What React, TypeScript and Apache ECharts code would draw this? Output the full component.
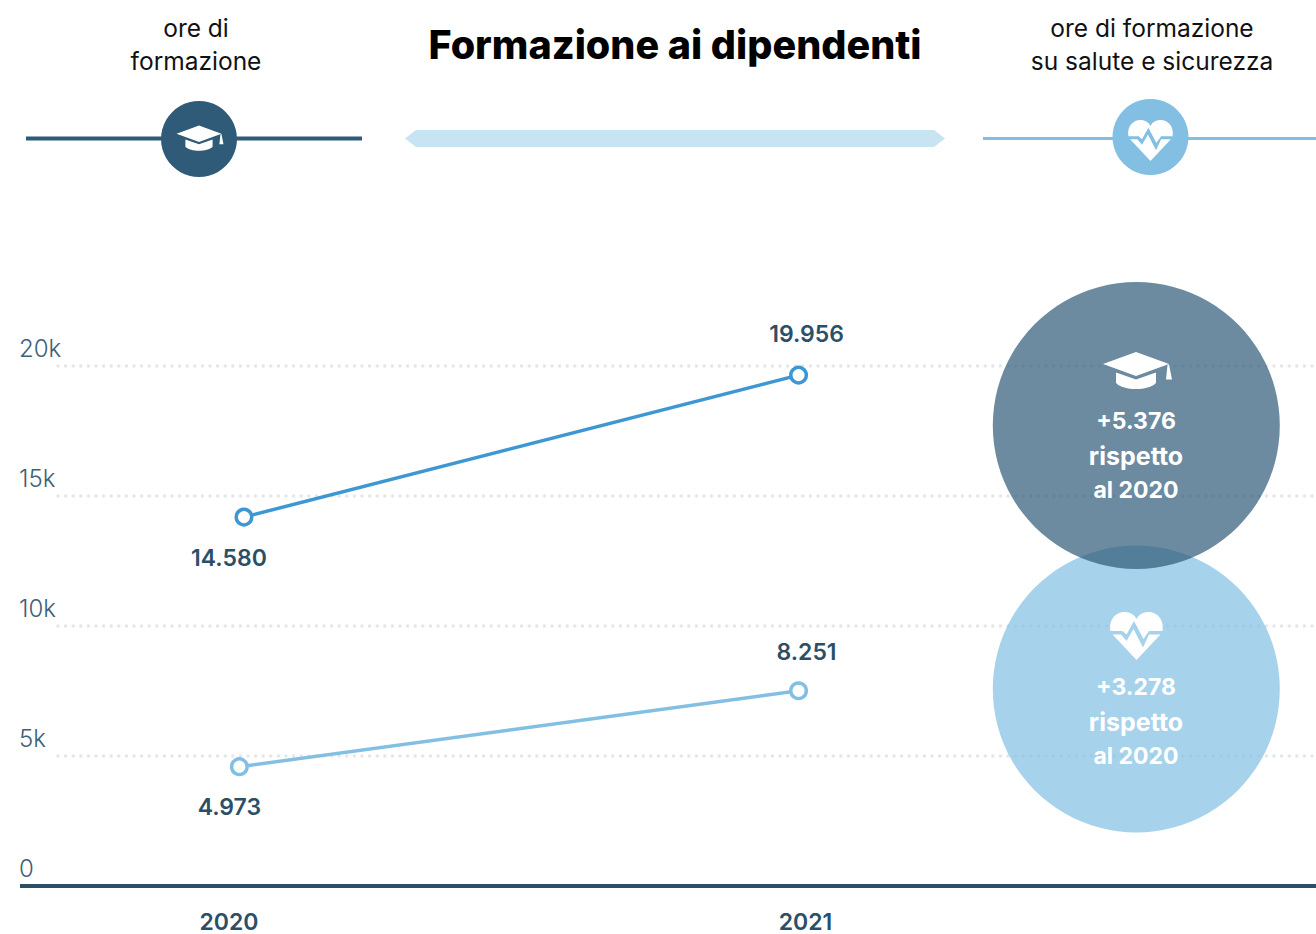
import React, { useEffect, useRef } from "react";
import * as echarts from "echarts";

const yTicks = [0, 5000, 10000, 15000, 20000];
const years = [2020, 2021];
const generalX = [2020.026, 2020.988];
const generalHours = [14170, 19630];
const generalLabels = ["14.580", "19.956"];
const safetyX = [2020.018, 2020.988];
const safetyHours = [4570, 7490];
const safetyLabels = ["4.973", "8.251"];

const DARK = "#2F5A78";
const TEXT = "#2C4F68";
const LINE1 = "#3D97D3";
const LINE2 = "#82BFE2";
const FONT = "Inter";
const HEAD = "Inter";

const CAP =
  "M-33,-7 L0,-19 L33,-7 L0,5 Z M-20,1.5 L0,8.5 L20,1.5 L20,12 C12,20 -12,20 -20,12 Z M31.5,-6 L33,-6.5 L36,8.5 L30,8.5 Z";
const HEART =
  "M-26,-5 C-28,-17 -20,-24 -12,-24 C-6,-24 -2,-21 0,-17 C2,-21 6,-24 12,-24 C20,-24 28,-17 26,-5 L12.5,-5 L7,3 L-2.5,-15 L-10,-1.5 L-14,-5 Z " +
  "M-24,-1.5 L-15.5,-1.5 L-10,5 L-3,-7 L6.5,11.5 L12.5,-1.5 L24,-1.5 L0,24 Z";

echarts.graphic.registerShape("capIcon", echarts.graphic.extendPath(CAP as any, {}) as any);
echarts.graphic.registerShape("heartIcon", echarts.graphic.extendPath(HEART as any, {}) as any);

const headText = (text: string, x: number, y: number) => ({
  type: "text",
  x,
  y,
  z: 10,
  style: { text, fill: "#111", font: `400 24.5px ${HEAD}`, align: "center", verticalAlign: "middle" },
});
const circleText = (text: string, y: number, size = 23) => ({
  type: "text",
  x: 1136,
  y,
  z: 12,
  style: { text, fill: "#fff", font: `700 ${size}px ${FONT}`, align: "center", verticalAlign: "middle" },
});

const seriesOf = (
  name: string,
  xs: number[],
  ys: number[],
  labels: string[],
  color: string,
  offsets: number[][],
) => ({
  type: "line",
  name,
  xAxisIndex: 0,
  yAxisIndex: 0,
  symbol: "circle",
  symbolSize: 15.5,
  showSymbol: true,
  itemStyle: { color: "#fff", borderColor: color, borderWidth: 3.5 },
  lineStyle: { color, width: 3.5 },
  data: xs.map((x, i) => ({
    value: [x, ys[i]],
    label: {
      show: true,
      position: "inside",
      offset: offsets[i],
      formatter: labels[i],
      color: TEXT,
      fontFamily: FONT,
      fontWeight: 600,
      fontSize: 23,
    },
  })),
});

export default function App() {
  const ref = useRef<HTMLDivElement>(null);
  useEffect(() => {
    const chart = echarts.init(ref.current!, undefined, { renderer: "svg" });
    chart.setOption({
      animation: false,
      backgroundColor: "#fff",
      grid: [
        { left: 20, right: 0, top: 365.5, height: 520 },
        { left: 58, right: 0, top: 365.5, height: 520 },
      ],
      xAxis: [
        {
          type: "value",
          gridIndex: 0,
          min: 2019.6375,
          max: 2021.8856,
          splitLine: { show: false },
          axisTick: { show: false },
          axisLine: { show: true, onZero: false, lineStyle: { color: "#2B4F66", width: 4, cap: "butt" } },
          axisLabel: {
            customValues: years,
            formatter: (v: number) => String(v),
            color: TEXT,
            fontFamily: FONT,
            fontWeight: 600,
            fontSize: 23,
            lineHeight: 20,
            margin: 26,
          },
        },
        { type: "value", gridIndex: 1, show: false, min: 0, max: 1 },
      ],
      yAxis: [
        { type: "value", gridIndex: 0, show: false, min: 0, max: 20000 },
        {
          type: "value",
          gridIndex: 1,
          min: 0,
          max: 20000,
          interval: 5000,
          axisLine: { show: false },
          axisTick: { show: false },
          splitLine: {
            show: true,
            showMinLine: false,
            lineStyle: { color: "#E4E6E8", width: 3.5, type: [0, 7.6], cap: "round" },
          },
          axisLabel: {
            color: "#3E6078",
            fontFamily: FONT,
            fontWeight: 300,
            fontSize: 24,
            align: "left",
            verticalAlign: "bottom",
            lineHeight: 35,
            margin: 39,
            customValues: yTicks,
            formatter: (v: number) => (v === 0 ? "0" : `${v / 1000}k`),
          },
        },
      ],
      series: [
        seriesOf("ore di formazione", generalX, generalHours, generalLabels, LINE1, [[-15, 41], [8, -41]]),
        seriesOf("ore di formazione su salute e sicurezza", safetyX, safetyHours, safetyLabels, LINE2, [[-10, 40], [8, -39]]),
      ],
      graphic: [
        {
          type: "group",
          silent: true,
          children: [
            headText("ore di", 196, 28),
            headText("formazione", 196, 61),
            headText("ore di formazione", 1152, 28),
            headText("su salute e sicurezza", 1152, 61),
            {
              type: "text",
              x: 675,
              y: 45,
              z: 10,
              style: { text: "Formazione ai dipendenti", fill: "#000", font: `800 39.5px ${HEAD}`, align: "center", verticalAlign: "middle" },
            },
            { type: "line", z: 10, shape: { x1: 26, y1: 138.5, x2: 362, y2: 138.5 }, style: { stroke: DARK, lineWidth: 4 } },
            { type: "circle", z: 11, shape: { cx: 199, cy: 139, r: 38 }, style: { fill: DARK } },
            { type: "capIcon", z: 12, x: 199, y: 138.5, scaleX: 0.68, scaleY: 0.68, style: { fill: "#fff" } },
            { type: "line", z: 10, shape: { x1: 983, y1: 138.5, x2: 1316, y2: 138.5 }, style: { stroke: LINE2, lineWidth: 3 } },
            { type: "circle", z: 11, shape: { cx: 1150.5, cy: 137, r: 38 }, style: { fill: LINE2 } },
            { type: "heartIcon", z: 12, x: 1150.5, y: 140.5, scaleX: 0.85, scaleY: 0.85, style: { fill: "#fff" } },
            {
              type: "polygon",
              z: 10,
              shape: { points: [[405, 138.5], [416, 130], [934, 130], [945, 138.5], [934, 147], [416, 147]] },
              style: { fill: "#C8E4F2" },
            },
            { type: "circle", z: 10, shape: { cx: 1136.3, cy: 689, r: 143.5 }, style: { fill: LINE2, opacity: 0.7 } },
            { type: "circle", z: 11, shape: { cx: 1136.3, cy: 425.5, r: 143.5 }, style: { fill: DARK, opacity: 0.7 } },
            { type: "capIcon", z: 12, x: 1136, y: 371, style: { fill: "#fff" } },
            circleText("+5.376", 421),
            circleText("rispetto", 456, 25),
            circleText("al 2020", 490),
            { type: "heartIcon", z: 12, x: 1136.5, y: 636, style: { fill: "#fff" } },
            circleText("+3.278", 687),
            circleText("rispetto", 722, 25),
            circleText("al 2020", 756),
          ],
        },
      ],
    });
    return () => chart.dispose();
  }, []);
  return <div ref={ref} style={{ position: "absolute", left: 0, top: 0, width: 1316, height: 934 }} />;
}
